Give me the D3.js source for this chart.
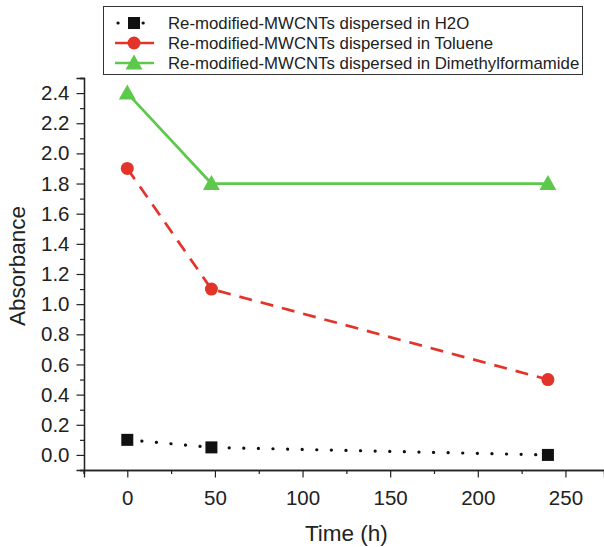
<!DOCTYPE html>
<html>
<head>
<meta charset="utf-8">
<script src="https://cdn.jsdelivr.net/npm/d3@7"></script>
<style>
  body { margin: 0; background: #fff; }
  svg { display: block; font-family: "Liberation Sans", Arial, sans-serif; }
</style>
</head>
<body>
<svg id="chart" width="604" height="547"></svg>
<script>
// time points (h)
const times = [0, 48, 240];
const h2o = [0.10, 0.05, 0.00];
const toluene = [1.90, 1.10, 0.50];
const dmf = [2.40, 1.80, 1.80];

const seriesNames = [
  'Re-modified-MWCNTs dispersed in H2O',
  'Re-modified-MWCNTs dispersed in Toluene',
  'Re-modified-MWCNTs dispersed in Dimethylformamide',
];
const xTicks = [0, 50, 100, 150, 200, 250];
const yTicks = [0, 0.2, 0.4, 0.6, 0.8, 1.0, 1.2, 1.4, 1.6, 1.8, 2.0, 2.2, 2.4];

const series = [
  { name: seriesNames[0], values: h2o, color: '#111', dash: '0.1 14.5', width: 3.2, cap: 'round', marker: 'square', legendDash: '0.1 25' },
  { name: seriesNames[1], values: toluene, color: '#e3342a', dash: '13 9', width: 2.7, cap: 'butt', marker: 'circle', legendDash: null },
  { name: seriesNames[2], values: dmf, color: '#5cc94a', dash: null, width: 2.7, cap: 'butt', marker: 'triangle', legendDash: null },
];

const svg = d3.select('#chart');
const plotLeft = 84, plotBottom = 470, plotTop = 78;

const x = d3.scaleLinear().domain([-24.7, 272]).range([plotLeft, 604]);
const y = d3.scaleLinear().domain([-0.1, 2.5]).range([plotBottom, plotTop]);

// axes
const xAxis = svg.append('g').attr('transform', `translate(0,${plotBottom})`);
xAxis.call(d3.axisBottom(x).tickValues(xTicks).tickSize(7.5).tickPadding(13).tickFormat(d3.format('d')));
xAxis.append('g').call(d3.axisBottom(x).tickValues(d3.range(-25, 275, 50)).tickSize(4).tickFormat(''));

const yAxis = svg.append('g').attr('transform', `translate(${plotLeft},0)`);
yAxis.call(d3.axisLeft(y).tickValues(yTicks).tickSize(7.5).tickPadding(7).tickFormat(d3.format('.1f')));
yAxis.append('g').call(d3.axisLeft(y).tickValues(d3.range(-0.1, 2.55, 0.2)).tickSize(4).tickFormat(''));

svg.selectAll('.domain').attr('stroke', '#222').attr('stroke-width', 1.3);
svg.selectAll('.tick line').attr('stroke', '#222').attr('stroke-width', 1.2);
svg.selectAll('.tick text').attr('font-size', 20.5).attr('fill', '#222')
  .attr('font-family', '"Liberation Sans", Arial, sans-serif');

svg.append('text').attr('x', x(125)).attr('y', 541).attr('text-anchor', 'middle')
  .attr('font-size', 22.5).attr('fill', '#222').text('Time (h)');
svg.append('text').attr('transform', 'translate(25,266) rotate(-90)')
  .attr('text-anchor', 'middle').attr('font-size', 22.5).attr('fill', '#222').text('Absorbance');

function drawMarker(g, type, cx, cy, color) {
  if (type === 'square') {
    g.append('rect').attr('x', cx - 6).attr('y', cy - 6).attr('width', 12).attr('height', 12).attr('fill', color);
  } else if (type === 'circle') {
    g.append('circle').attr('cx', cx).attr('cy', cy).attr('r', 6.5).attr('fill', color);
  } else {
    g.append('path').attr('d', `M${cx},${cy - 8.5}L${cx + 8.5},${cy + 6.5}L${cx - 8.5},${cy + 6.5}Z`).attr('fill', color);
  }
}

const line = d3.line().x((d, i) => x(times[i])).y(d => y(d));
const plot = svg.append('g');
series.forEach(s => {
  plot.append('path').attr('d', line(s.values)).attr('fill', 'none')
    .attr('stroke', s.color).attr('stroke-width', s.width)
    .attr('stroke-linecap', s.cap)
    .attr('stroke-dasharray', s.dash);
  s.values.forEach((v, i) => drawMarker(plot, s.marker, x(times[i]), y(v), s.color));
});

// legend
const lg = svg.append('g');
lg.append('rect').attr('x', 103.5).attr('y', 6.5).attr('width', 479).attr('height', 68)
  .attr('fill', '#fff').attr('stroke', '#333').attr('stroke-width', 1);
series.forEach((s, i) => {
  const cy = 23 + i * 20;
  lg.append('line').attr('x1', i === 0 ? 118 : 115).attr('x2', 154).attr('y1', cy).attr('y2', cy)
    .attr('stroke', s.color).attr('stroke-width', s.width).attr('stroke-linecap', s.cap)
    .attr('stroke-dasharray', s.legendDash);
  drawMarker(lg, s.marker, 134, cy, s.color);
  lg.append('text').attr('x', 168).attr('y', cy + 6).attr('font-size', 16.8).attr('fill', '#222').text(s.name);
});
</script>
</body>
</html>
